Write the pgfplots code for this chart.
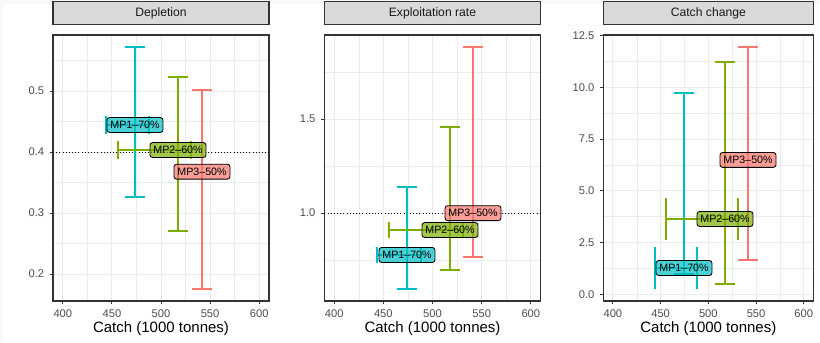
\documentclass[border=0pt]{standalone}
\usepackage{fontspec}
\setmainfont{Liberation Sans}
\usepackage{pgfplots}
\pgfplotsset{compat=1.18}
\definecolor{mpa}{RGB}{0,191,196}
\definecolor{mpb}{RGB}{124,174,0}
\definecolor{mpc}{RGB}{248,118,109}
\definecolor{gridc}{RGB}{235,235,235}
\definecolor{framec}{RGB}{51,51,51}
\definecolor{tickc}{RGB}{77,77,77}
\definecolor{stripc}{RGB}{217,217,217}
\definecolor{bgc}{RGB}{248,248,248}

\pgfplotsset{
 facet/.style={
  scale only axis, height=159.6pt,
  xmin=390, xmax=610,
  xtick={400,450,500,550,600},
  minor xtick={425,475,525,575},
  grid=both,
  major grid style={draw=gridc, line width=0.6pt},
  minor grid style={draw=gridc, line width=0.3pt},
  axis line style={draw=framec, line width=0.7pt},
  tick align=outside, xtick pos=bottom, ytick pos=left,
  major tick length=1.8pt, minor tick length=0pt,
  major tick style={draw=framec, line width=0.6pt},
  tick label style={font=\fontsize{6.7}{8}\selectfont, text=tickc},
  /pgf/number format/assume math mode=true,
  xlabel={Catch (1000 tonnes)},
  xlabel style={font=\fontsize{9}{10}\selectfont, at={(axis description cs:0.5,0)}, anchor=center, yshift=-16.8pt},
  title style={at={(axis description cs:0.5,1)}, anchor=south, draw=framec, line width=0.7pt, fill=stripc, minimum height=13.8pt, inner sep=0pt, font=\fontsize{7.3}{8}\selectfont, text=black!90},
  unbounded coords=jump,
 },
 ref/.style={color=black, line width=0.5pt, dash pattern=on 0.6pt off 1.3pt, forget plot},
 ebar/.style={color=#1, draw=#1, line width=0.75pt, mark=none, forget plot},
 lab/.style 2 args={draw=none, mark=none, forget plot,
   nodes near coords={#2},
   nodes near coords style={anchor=center, fill=#1, fill opacity=0.7, text opacity=1, draw=black, draw opacity=1, line width=0.5pt, rounded corners=1.5pt, inner xsep=2pt, inner ysep=2.2pt, font=\fontsize{6.4}{7}\selectfont, text=black}},
}

\begin{document}
\begin{tikzpicture}
\path[use as bounding box] (0,0) rectangle (492pt,205.8pt);
\fill[bgc] (0,0) rectangle (492pt,205.8pt);
\fill[white] (1.8pt,0) rectangle (492pt,203.4pt);

% Panel 1: Depletion
\begin{axis}[facet, at={(31.8pt,25.2pt)}, anchor=south west, width=129.6pt,
  title={Depletion}, title style={minimum width=129.6pt},
  ymin=0.156, ymax=0.592,
  ytick={0.2,0.3,0.4,0.5}, minor ytick={0.25,0.35,0.45,0.55},
  yticklabel style={/pgf/number format/.cd, fixed, fixed zerofill, precision=1}]
\addplot[ref] coordinates {(390,0.4) (610,0.4)};
% vertical error bars
\addplot[ebar=mpa] coordinates {(473.52,0.3265) (473.52,0.5723) (nan,nan) (463.0,0.5723) (484.0,0.5723) (nan,nan) (463.0,0.3265) (484.0,0.3265)};
\addplot[ebar=mpb] coordinates {(517.31,0.2707) (517.31,0.5232) (nan,nan) (506.8,0.5232) (527.8,0.5232) (nan,nan) (506.8,0.2707) (527.8,0.2707)};
\addplot[ebar=mpc] coordinates {(541.76,0.1757) (541.76,0.5019) (nan,nan) (531.3,0.5019) (552.3,0.5019) (nan,nan) (531.3,0.1757) (552.3,0.1757)};
% horizontal error bars
\addplot[ebar=mpa] coordinates {(444.0,0.4445) (487.78,0.4445) (nan,nan) (444.0,0.429) (444.0,0.460) (nan,nan) (487.78,0.429) (487.78,0.460)};
\addplot[ebar=mpb] coordinates {(456.2,0.4035) (530.56,0.4035) (nan,nan) (456.2,0.388) (456.2,0.419) (nan,nan) (530.56,0.388) (530.56,0.419)};
\addplot[lab={mpa}{MP1\textendash70\%}] coordinates {(473.52,0.4445)};
\addplot[lab={mpb}{MP2\textendash60\%}] coordinates {(517.31,0.4035)};
\addplot[lab={mpc}{MP3\textendash50\%}] coordinates {(541.76,0.368)};
\end{axis}

% Panel 2: Exploitation rate
\begin{axis}[facet, at={(194.6pt,25.2pt)}, anchor=south west, width=129.8pt,
  title={Exploitation rate}, title style={minimum width=129.8pt},
  ymin=0.533, ymax=1.947,
  ytick={1.0,1.5}, minor ytick={0.75,1.25,1.75},
  yticklabel style={/pgf/number format/.cd, fixed, fixed zerofill, precision=1}]
\addplot[ref] coordinates {(390,1.0) (610,1.0)};
\addplot[ebar=mpa] coordinates {(474.07,0.5968) (474.07,1.1390) (nan,nan) (463.6,1.1390) (484.6,1.1390) (nan,nan) (463.6,0.5968) (484.6,0.5968)};
\addplot[ebar=mpb] coordinates {(517.80,0.6978) (517.80,1.4580) (nan,nan) (507.3,1.4580) (528.3,1.4580) (nan,nan) (507.3,0.6978) (528.3,0.6978)};
\addplot[ebar=mpc] coordinates {(541.19,0.7669) (541.19,1.8832) (nan,nan) (530.7,1.8832) (551.7,1.8832) (nan,nan) (530.7,0.7669) (551.7,0.7669)};
\addplot[ebar=mpa] coordinates {(443.56,0.7775) (488.31,0.7775) (nan,nan) (443.56,0.7325) (443.56,0.8225) (nan,nan) (488.31,0.7325) (488.31,0.8225)};
\addplot[ebar=mpb] coordinates {(455.76,0.9104) (531.02,0.9104) (nan,nan) (455.76,0.8654) (455.76,0.9554) (nan,nan) (531.02,0.8654) (531.02,0.9554)};
\addplot[lab={mpa}{MP1\textendash70\%}] coordinates {(474.07,0.7775)};
\addplot[lab={mpb}{MP2\textendash60\%}] coordinates {(517.80,0.9104)};
\addplot[lab={mpc}{MP3\textendash50\%}] coordinates {(541.19,1.0)};
\end{axis}

% Panel 3: Catch change
\begin{axis}[facet, at={(362pt,25.2pt)}, anchor=south west, width=126pt,
  title={Catch change}, title style={minimum width=126pt},
  ymin=-0.33, ymax=12.53,
  ytick={0,2.5,5,7.5,10,12.5}, minor ytick={1.25,3.75,6.25,8.75,11.25},
  yticklabel style={/pgf/number format/.cd, fixed, fixed zerofill, precision=1}]
\addplot[ebar=mpa] coordinates {(474.51,0.97) (474.51,9.7259) (nan,nan) (464.0,9.7259) (485.0,9.7259) (nan,nan) (464.0,0.97) (485.0,0.97)};
\addplot[ebar=mpb] coordinates {(517.46,0.4919) (517.46,11.2247) (nan,nan) (507.0,11.2247) (528.0,11.2247) (nan,nan) (507.0,0.4919) (528.0,0.4919)};
\addplot[ebar=mpc] coordinates {(541.56,1.6522) (541.56,11.9498) (nan,nan) (531.1,11.9498) (552.1,11.9498) (nan,nan) (531.1,1.6522) (552.1,1.6522)};
\addplot[ebar=mpa] coordinates {(444.13,1.2654) (488.13,1.2654) (nan,nan) (444.13,0.245) (444.13,2.285) (nan,nan) (488.13,0.245) (488.13,2.285)};
\addplot[ebar=mpb] coordinates {(455.65,3.6344) (531.08,3.6344) (nan,nan) (455.65,2.614) (455.65,4.654) (nan,nan) (531.08,2.614) (531.08,4.654)};
\addplot[lab={mpa}{MP1\textendash70\%}] coordinates {(474.51,1.2654)};
\addplot[lab={mpb}{MP2\textendash60\%}] coordinates {(517.46,3.6344)};
\addplot[lab={mpc}{MP3\textendash50\%}] coordinates {(541.56,6.49)};
\end{axis}
\end{tikzpicture}
\end{document}
